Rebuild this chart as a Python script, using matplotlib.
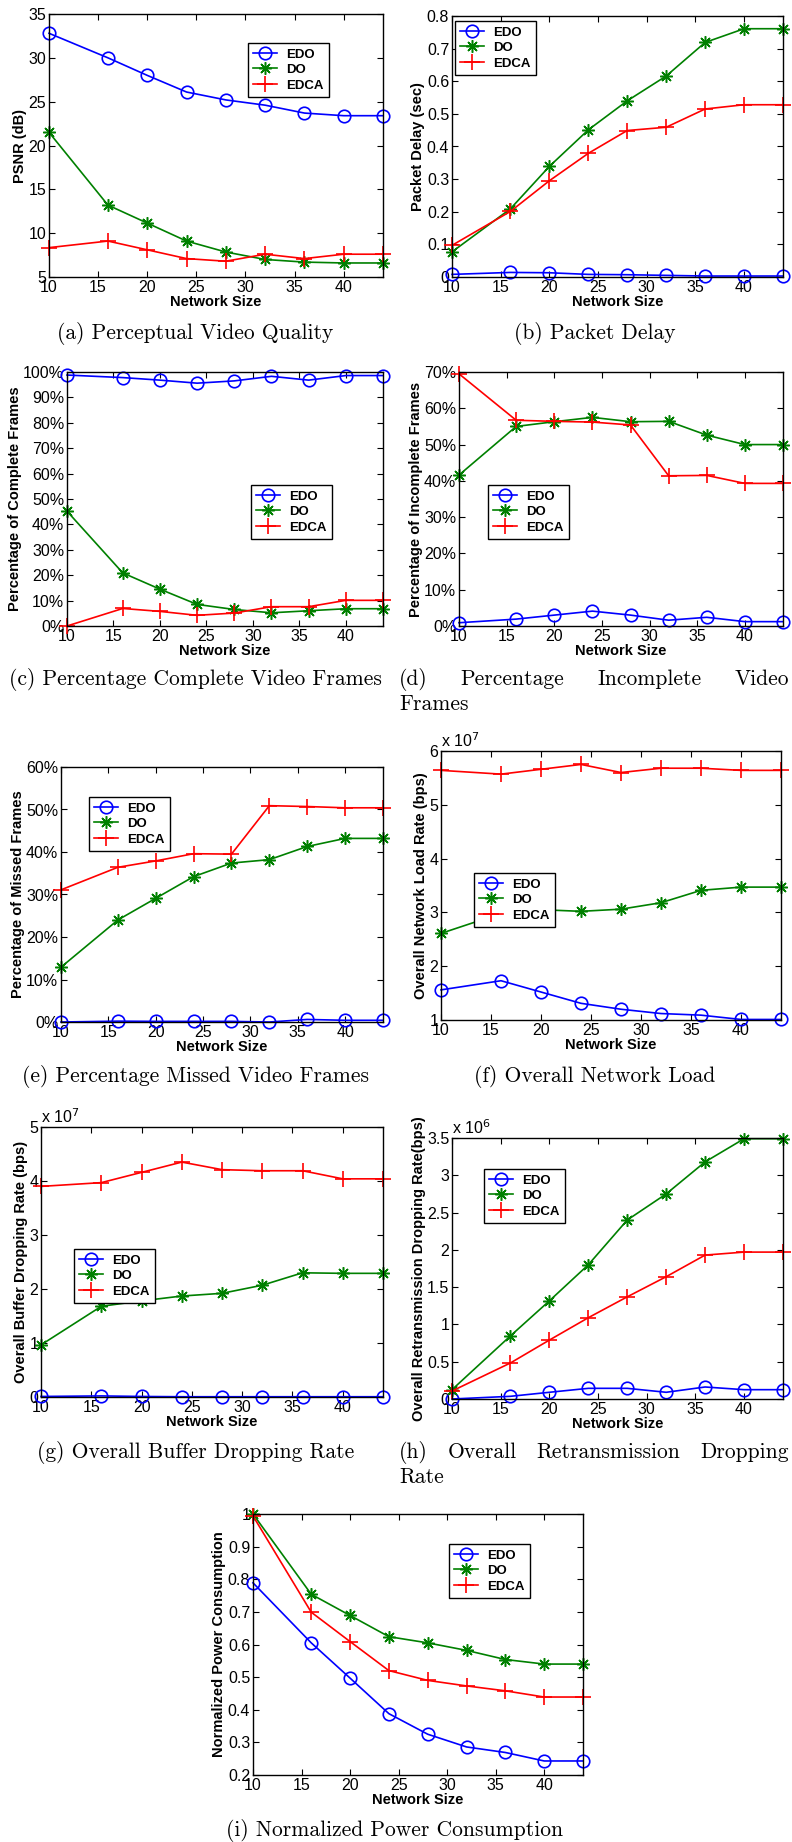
import matplotlib
matplotlib.use("Agg")
import matplotlib.pyplot as plt
from matplotlib.ticker import FuncFormatter, MultipleLocator

plt.rcParams["font.family"] = ["Liberation Sans", "DejaVu Sans"]

# network sizes (x axis, shared by all panels)
sizes = [10, 16, 20, 24, 28, 32, 36, 40, 44]
schemes = ["EDO", "DO", "EDCA"]

# (a) PSNR (dB)
psnr_edo = [32.8, 30.0, 28.0, 26.1, 25.2, 24.6, 23.7, 23.4, 23.4]
psnr_do = [21.5, 13.2, 11.15, 9.1, 7.85, 7.0, 6.7, 6.6, 6.6]
psnr_edca = [8.35, 9.1, 8.1, 7.1, 6.8, 7.6, 7.1, 7.6, 7.6]

# (b) packet delay (sec)
delay_edo = [0.008, 0.014, 0.013, 0.008, 0.007, 0.005, 0.003, 0.003, 0.003]
delay_do = [0.077, 0.209, 0.339, 0.451, 0.540, 0.616, 0.719, 0.761, 0.761]
delay_edca = [0.097, 0.201, 0.295, 0.379, 0.449, 0.459, 0.515, 0.528, 0.528]

# (c) complete frames (%)
complete_edo = [98.8, 97.8, 96.8, 95.6, 96.5, 98.3, 96.8, 98.6, 98.6]
complete_do = [45.2, 20.9, 14.5, 8.5, 6.5, 5.2, 6.0, 6.8, 6.8]
complete_edca = [0.0, 6.9, 5.75, 4.2, 5.1, 7.6, 7.6, 10.1, 10.1]

# (d) incomplete frames (%)
incomplete_edo = [0.9, 1.9, 3.0, 4.1, 3.0, 1.6, 2.4, 1.2, 1.2]
incomplete_do = [41.6, 55.0, 56.3, 57.5, 56.3, 56.4, 52.6, 50.0, 50.0]
incomplete_edca = [69.5, 56.7, 56.4, 56.2, 55.4, 41.4, 41.5, 39.3, 39.3]

# (e) missed frames (%)
missed_edo = [0.0, 0.2, 0.15, 0.15, 0.15, 0.0, 0.6, 0.4, 0.4]
missed_do = [12.9, 24.0, 29.1, 34.2, 37.4, 38.2, 41.3, 43.2, 43.2]
missed_edca = [31.1, 36.4, 37.9, 39.6, 39.5, 50.9, 50.7, 50.4, 50.4]

# (f) network load (bps)
load_edo = [1.56e7, 1.73e7, 1.52e7, 1.31e7, 1.20e7, 1.12e7, 1.09e7, 1.01e7, 1.01e7]
load_do = [2.61e7, 2.98e7, 3.05e7, 3.02e7, 3.06e7, 3.18e7, 3.41e7, 3.47e7, 3.47e7]
load_edca = [5.64e7, 5.57e7, 5.66e7, 5.75e7, 5.60e7, 5.68e7, 5.68e7, 5.64e7, 5.64e7]

# (g) buffer dropping rate (bps)
buffer_edo = [0.01e7, 0.02e7, 0.01e7, 0.005e7, 0.005e7, 0.005e7, 0.005e7, 0.005e7, 0.005e7]
buffer_do = [0.965e7, 1.68e7, 1.78e7, 1.87e7, 1.92e7, 2.07e7, 2.30e7, 2.29e7, 2.29e7]
buffer_edca = [3.90e7, 3.97e7, 4.16e7, 4.35e7, 4.21e7, 4.19e7, 4.19e7, 4.04e7, 4.04e7]

# (h) retransmission dropping rate (bps)
retx_edo = [0.0, 0.036e6, 0.09e6, 0.143e6, 0.143e6, 0.09e6, 0.161e6, 0.125e6, 0.125e6]
retx_do = [0.125e6, 0.846e6, 1.316e6, 1.80e6, 2.40e6, 2.75e6, 3.18e6, 3.49e6, 3.49e6]
retx_edca = [0.107e6, 0.483e6, 0.79e6, 1.09e6, 1.37e6, 1.64e6, 1.93e6, 1.97e6, 1.97e6]

# (i) normalized power consumption
power_edo = [0.789, 0.605, 0.497, 0.388, 0.325, 0.286, 0.269, 0.243, 0.243]
power_do = [1.0, 0.754, 0.689, 0.624, 0.605, 0.582, 0.554, 0.54, 0.54]
power_edca = [0.994, 0.699, 0.609, 0.52, 0.49, 0.473, 0.458, 0.439, 0.439]

W, H = 792, 1842
BLUE, GREEN, RED = "#0000ff", "#008000", "#ff0000"
STYLES = [
    dict(color=BLUE, marker="o", markersize=9, markerfacecolor="none", markeredgewidth=1.2),
    dict(color=GREEN, marker=(8, 2, 0), markersize=9, markeredgewidth=1.1),
    dict(color=RED, marker="+", markersize=11, markeredgewidth=1.2),
]
CAP_SIZE = 15.5


def px_rect(left, top, right, bottom):
    return [left / W, 1 - bottom / H, (right - left) / W, (bottom - top) / H]


def make_panel(fig, rect, series, ylabel, ylim, ystep, legend_at, fmt=None, scale_exp=None):
    ax = fig.add_axes(px_rect(*rect))
    for vals, name, st in zip(series, schemes, STYLES):
        ax.plot(sizes, vals, label=name, linewidth=1.2, clip_on=False, **st)
    ax.set_xlim(10, 44)
    ax.set_ylim(*ylim)
    ax.xaxis.set_major_locator(MultipleLocator(5))
    ax.yaxis.set_major_locator(MultipleLocator(ystep))
    if fmt is not None:
        ax.yaxis.set_major_formatter(FuncFormatter(fmt))
    ax.tick_params(direction="in", length=4, width=0.8, top=True, right=True,
                   labelsize=11.5, pad=2)
    for sp in ax.spines.values():
        sp.set_linewidth(1.0)
    ax.set_xlabel("Network Size", fontsize=10.5, fontweight="bold", labelpad=0)
    ax.set_ylabel(ylabel, fontsize=10.5, fontweight="bold", labelpad=1)
    if scale_exp is not None:
        ax.text(0.0, 1.005, "x 10$^{%d}$" % scale_exp, transform=ax.transAxes,
                fontsize=11.5, ha="left", va="bottom")
    lx, ly = legend_at
    leg = ax.legend(loc="upper left", bbox_to_anchor=(lx / W, 1 - ly / H),
                    bbox_transform=fig.transFigure, fancybox=False, framealpha=1,
                    edgecolor="black", borderaxespad=0, prop=dict(weight="bold", size=9.5),
                    handlelength=1.8, labelspacing=0.25, borderpad=0.4, handletextpad=0.7)
    leg.get_frame().set_linewidth(1.0)
    return ax


def caption(fig, x, y, text):
    fig.text(x / W, 1 - y / H, text, family="cmr10", fontsize=CAP_SIZE,
             ha="center", va="baseline")


def justified(fig, words, x0, x1, y):
    # spread the words of a caption line over the full column width
    renderer = fig.canvas.get_renderer()
    texts = [fig.text(0, 1 - y / H, w, family="cmr10", fontsize=CAP_SIZE, va="baseline")
             for w in words]
    widths = [t.get_window_extent(renderer).width for t in texts]
    gap = (x1 - x0 - sum(widths)) / (len(words) - 1)
    x = x0
    for t, w in zip(texts, widths):
        t.set_x(x / W)
        x += w + gap


pct = lambda v, _: "%d%%" % round(v)
num = lambda v, _: ("%g" % round(v, 3))
e7 = lambda v, _: "%g" % round(v / 1e7, 3)
e6 = lambda v, _: "%g" % round(v / 1e6, 3)

fig = plt.figure(figsize=(W / 100, H / 100), dpi=100)

make_panel(fig, (49, 14, 383, 277), [psnr_edo, psnr_do, psnr_edca], "PSNR (dB)",
           (5, 35), 5, (248, 43))
make_panel(fig, (452, 16, 783, 277), [delay_edo, delay_do, delay_edca], "Packet Delay (sec)",
           (0, 0.8), 0.1, (455, 21), fmt=num)
make_panel(fig, (67, 372, 383, 626), [complete_edo, complete_do, complete_edca],
           "Percentage of Complete Frames", (0, 100), 10, (251, 485), fmt=pct)
make_panel(fig, (459, 372, 783, 626), [incomplete_edo, incomplete_do, incomplete_edca],
           "Percentage of Incomplete Frames", (0, 70), 10, (488, 485), fmt=pct)
make_panel(fig, (61, 767, 383, 1022), [missed_edo, missed_do, missed_edca],
           "Percentage of Missed Frames", (0, 60), 10, (89, 797), fmt=pct)
make_panel(fig, (441, 751, 781, 1020), [load_edo, load_do, load_edca],
           "Overall Network Load Rate (bps)", (1e7, 6e7), 1e7, (474, 873), fmt=e7, scale_exp=7)
make_panel(fig, (41, 1127, 383, 1397), [buffer_edo, buffer_do, buffer_edca],
           "Overall Buffer Dropping Rate (bps)", (0, 5e7), 1e7, (74, 1249), fmt=e7, scale_exp=7)
make_panel(fig, (452, 1138, 783, 1399), [retx_edo, retx_do, retx_edca],
           "Overall Retransmission Dropping Rate(bps)", (0, 3.5e6), 0.5e6, (484, 1169),
           fmt=e6, scale_exp=6)
make_panel(fig, (253, 1514, 583, 1775), [power_edo, power_do, power_edca],
           "Normalized Power Consumption", (0.2, 1.0), 0.1, (449, 1544), fmt=num)

caption(fig, 195, 339, "(a) Perceptual Video Quality")
caption(fig, 595, 339, "(b) Packet Delay")
caption(fig, 195, 685, "(c) Percentage Complete Video Frames")
justified(fig, ["(d)", "Percentage", "Incomplete", "Video"], 399, 789, 685)
fig.text(399 / W, 1 - 710 / H, "Frames", family="cmr10", fontsize=CAP_SIZE, va="baseline")
caption(fig, 195, 1082, "(e) Percentage Missed Video Frames")
caption(fig, 595, 1082, "(f) Overall Network Load")
caption(fig, 196, 1458, "(g) Overall Buffer Dropping Rate")
justified(fig, ["(h)", "Overall", "Retransmission", "Dropping"], 399, 789, 1458)
fig.text(399 / W, 1 - 1483 / H, "Rate", family="cmr10", fontsize=CAP_SIZE, va="baseline")
caption(fig, 395, 1836, "(i) Normalized Power Consumption")

fig.savefig("out.png", dpi=100)
